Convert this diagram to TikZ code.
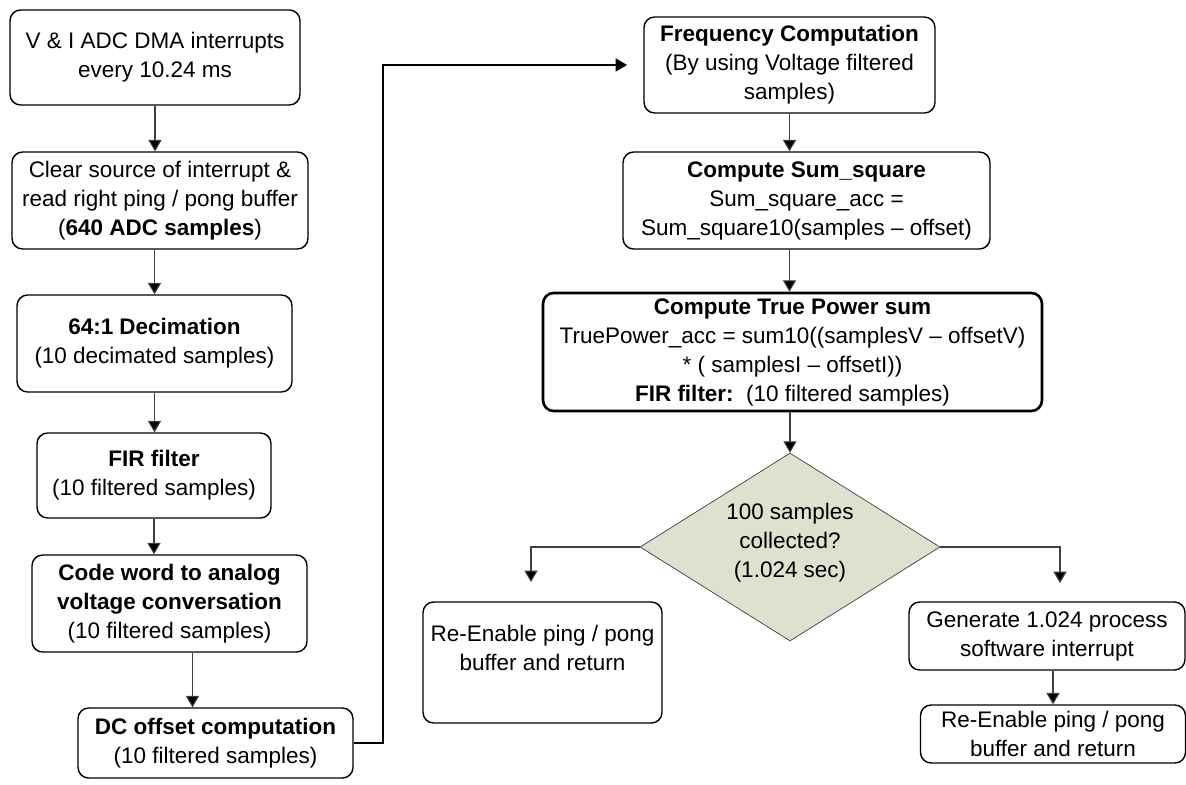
\documentclass[tikz,border=0pt]{standalone}
\usepackage{fontspec}
\setmainfont{Liberation Sans}
\usepackage{xcolor}
\usetikzlibrary{arrows.meta, calc, shapes.geometric}
\definecolor{decfill}{RGB}{221,225,205}

\begin{document}
\begin{tikzpicture}[x=0.02cm, y=-0.02cm,
                    font=\fontsize{12.8}{16.5}\selectfont,
                    blk/.style={draw, thick, rounded corners=6pt, align=center, inner sep=2pt},
                    conn/.style={draw=black!75, line width=0.6pt, -{Triangle[width=7.5pt,length=6.5pt,fill=black]}}]
                    \useasboundingbox (0,0) rectangle (1186,784);
                    \node[blk, minimum width=5.8cm, minimum height=1.9cm] (irq) at (155,57.5) {V \& I ADC DMA interrupts\\every 10.24 ms};
                    \node[blk, minimum width=5.92cm, minimum height=1.94cm] (clr) at (160,200.5) {Clear source of interrupt \&\\read right ping / pong buffer\\(\textbf{640 ADC samples})};
                    \node[blk, minimum width=5.5cm, minimum height=1.94cm] (deci) at (154.5,343.5) {\textbf{64:1 Decimation}\\(10 decimated samples)};
                    \node[blk, minimum width=4.68cm, minimum height=1.7cm] (fir) at (154,475.5) {\textbf{FIR filter}\\(10 filtered samples)};
                    \node[blk, minimum width=5.5cm, minimum height=1.94cm] (conv) at (169.5,603.5) {\textbf{Code word to analog}\\\textbf{voltage conversation}\\(10 filtered samples)};
                    \node[blk, minimum width=5.5cm, minimum height=1.4cm] (dc) at (215.5,743) {\textbf{DC offset computation}\\(10 filtered samples)};
                    \node[blk, minimum width=5.82cm, minimum height=1.92cm] (freq) at (789.5,65) {\textbf{Frequency Computation}\\(By using Voltage filtered\\samples)};
                    \node[blk, minimum width=7.34cm, minimum height=1.94cm] (sumsq) at (806.5,200.5) {\textbf{Compute Sum\_square}\\Sum\_square\_acc =\\Sum\_square10(samples – offset)};
                    \node[blk, line width=1.5pt, minimum width=9.98cm, minimum height=2.36cm] (tpow) at (792.5,352) {\textbf{Compute True Power sum}\\TruePower\_acc = sum10((samplesV – offsetV)\\* ( samplesI – offsetI))\hspace*{1.9cm}\\\textbf{FIR filter:}\ \ (10 filtered samples)};
                    \node[diamond, draw=black!75, fill=decfill, aspect=1.6, inner sep=0pt, minimum width=6cm, minimum height=3.76cm, align=center] (dec) at (790,547) {100 samples\\collected?\\(1.024 sec)\\[-0.3cm]\mbox{}};
                    \node[blk, minimum width=4.78cm, minimum height=2.42cm] (renl) at (542.5,662.5) {Re-Enable ping / pong\\buffer and return\\\mbox{}};
                    \node[blk, minimum width=5.52cm, minimum height=1.36cm] (gen) at (1047,636) {Generate 1.024 process\\software interrupt};
                    \node[blk, minimum width=5.3cm, minimum height=1.16cm] (renr) at (1053,734) {Re-Enable ping / pong\\buffer and return};
                    \coordinate (jog) at (383,65);
                    \coordinate (fin) at (627,65);
                    \coordinate (lt) at (531,582);
                    \coordinate (rt) at (1060,583);
                    \path (conv.south) -- (dc.north) coordinate[pos=.5] (mid);
                    \draw[conn] (irq.south) -- (irq.south |- clr.north);
                    \draw[conn] (deci.north |- clr.south) -- (deci.north);
                    \draw[conn] (deci.south) -- (deci.south |- fir.north);
                    \draw[conn] (fir.south) -- (fir.south |- conv.north);
                    \draw[conn] (mid |- conv.south) -- (mid |- dc.north);
                    \draw[conn, draw=black] (dc.east) -| (jog) -- (fin);
                    \draw[conn] (freq.south) -- (freq.south |- sumsq.north);
                    \draw[conn] (freq.south |- sumsq.south) -- (freq.south |- tpow.north);
                    \draw[conn] (dec.north |- tpow.south) -- (dec.north);
                    \draw[conn] (dec.west) -| (lt);
                    \draw[conn] (dec.east) -| (rt);
                    \draw[conn] (renr.north |- gen.south) -- (renr.north);
                \end{tikzpicture}
\end{document}
